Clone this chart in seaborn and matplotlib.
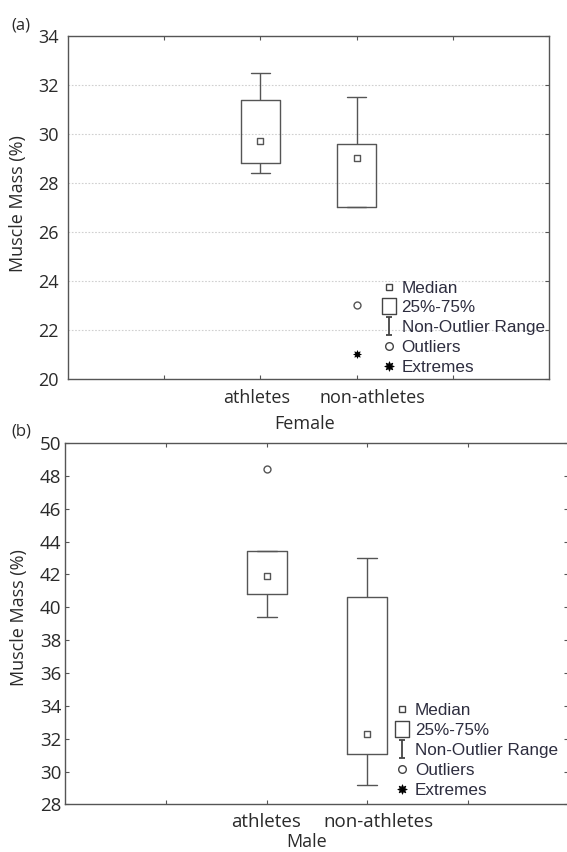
import numpy as np
import pandas as pd
import matplotlib
matplotlib.use("Agg")
import matplotlib.pyplot as plt
from matplotlib.lines import Line2D
from matplotlib.path import Path
import seaborn as sns

# ---------------- data ----------------
categories = ["athletes", "non-athletes"]

female_whisker_low = [28.4, 27.0]
female_q1 = [28.8, 27.0]
female_median = [29.7, 29.0]
female_q3 = [31.4, 29.6]
female_whisker_high = [32.5, 31.5]
female_outlier_groups = ["non-athletes"]
female_outliers = [23.0]
female_extreme_groups = ["non-athletes"]
female_extremes = [21.0]

male_whisker_low = [39.4, 29.2]
male_q1 = [40.8, 31.1]
male_median = [41.9, 32.3]
male_q3 = [43.4, 40.6]
male_whisker_high = [43.4, 43.0]
male_outlier_groups = ["athletes"]
male_outliers = [48.4]

female_yticks = [20, 22, 24, 26, 28, 30, 32, 34]
male_yticks = [28, 30, 32, 34, 36, 38, 40, 42, 44, 46, 48, 50]

legend_labels = ["Median", "25%-75%", "Non-Outlier Range", "Outliers", "Extremes"]

# ---------------- style ----------------
sns.set_style("ticks")
plt.rcParams["font.family"] = ["Open Sans", "DejaVu Sans"]

LINE = "#555555"
TXT = "#2a2a2a"


def stats_frame(wl, q1, med, q3, wh):
    rows = []
    for i, c in enumerate(categories):
        for v in (wl[i], q1[i], med[i], q3[i], wh[i]):
            rows.append({"group": c, "value": v})
    return pd.DataFrame(rows)


def draw_panel(ax, df, medians, outl_groups, outl, ext_groups, ext, label_offsets):
    sns.boxplot(data=df, x="group", y="value", order=categories, ax=ax,
                whis=(0, 100), width=0.4, fill=False, color=LINE,
                linewidth=1.0, showfliers=False,
                medianprops={"visible": False})
    sns.stripplot(x=categories, y=medians, order=categories, ax=ax,
                  jitter=False, marker="s", size=4.5, color="white",
                  edgecolor=LINE, linewidth=1.0, zorder=4)
    if outl:
        sns.stripplot(x=outl_groups, y=outl, order=categories, ax=ax,
                      jitter=False, marker="o", size=5, color="white",
                      edgecolor=LINE, linewidth=1.0, zorder=4)
    if ext:
        sns.stripplot(x=ext_groups, y=ext, order=categories, ax=ax,
                      jitter=False, marker=(8, 1, 0), size=5.5, color="black",
                      edgecolor="black", linewidth=0.5, zorder=4)
    ax.set_xlim(-2, 3)
    # tick marks at the category grid, labels (minor ticks) slightly offset
    ax.set_xticks([-1, 0, 1, 2])
    ax.set_xticklabels([])
    ax.set_xticks([i + d for i, d in enumerate(label_offsets)], minor=True)
    ax.set_xticklabels(categories, minor=True)
    ax.tick_params(axis="x", which="minor", length=0, bottom=True, top=False)
    for s in ax.spines.values():
        s.set_color(LINE)
        s.set_linewidth(1.0)
        s.set_visible(True)


ibeam = Path([(-0.32, 1), (0.32, 1), (0, 1), (0, -1), (-0.32, -1), (0.32, -1)],
             [Path.MOVETO, Path.LINETO, Path.MOVETO, Path.LINETO, Path.MOVETO, Path.LINETO])
rect = Path([(-0.8, -1), (0.8, -1), (0.8, 1), (-0.8, 1), (-0.8, -1)],
            [Path.MOVETO, Path.LINETO, Path.LINETO, Path.LINETO, Path.CLOSEPOLY])


def add_legend(ax, anchor):
    handles = [
        Line2D([], [], linestyle="none", marker="s", markersize=5,
               markerfacecolor="white", markeredgecolor="#444444", markeredgewidth=1.0),
        Line2D([], [], linestyle="none", marker=rect, markersize=12,
               markerfacecolor="white", markeredgecolor="#444444", markeredgewidth=1.0),
        Line2D([], [], linestyle="none", marker=ibeam, markersize=13,
               markerfacecolor="none", markeredgecolor="#444444", markeredgewidth=1.3),
        Line2D([], [], linestyle="none", marker="o", markersize=5.5,
               markerfacecolor="white", markeredgecolor="#444444", markeredgewidth=1.0),
        Line2D([], [], linestyle="none", marker=(8, 1, 0), markersize=7,
               markerfacecolor="black", markeredgecolor="black", markeredgewidth=0.5),
    ]
    leg = ax.legend(handles=handles, labels=legend_labels, loc="upper left",
                    bbox_to_anchor=anchor, frameon=False, borderpad=0,
                    borderaxespad=0, labelspacing=0.29, handlelength=0.9,
                    handletextpad=0.3,
                    prop={"family": ["Liberation Sans", "DejaVu Sans"], "size": 12.3})
    for t in leg.get_texts():
        t.set_color("#2d2d3f")


fig = plt.figure(figsize=(5.67, 8.52), dpi=100)

# ---------------- panel (a) Female ----------------
ax1 = fig.add_axes([0.1199, 0.5552, 0.8483, 0.4026])
ax1.set_axisbelow(True)
draw_panel(ax1, stats_frame(female_whisker_low, female_q1, female_median,
                            female_q3, female_whisker_high),
           female_median, female_outlier_groups, female_outliers,
           female_extreme_groups, female_extremes, (-0.035, 0.16))
ax1.set_ylim(20, 34)
ax1.set_yticks(female_yticks)
ax1.yaxis.grid(True, color="#d0d0d0", linestyle=(0, (1.5, 1.5)), linewidth=0.8)
ax1.xaxis.grid(False)
ax1.tick_params(axis="both", which="major", direction="in", length=3, width=0.8,
                color=LINE, top=True, right=True)
ax1.tick_params(axis="both", which="both", labelsize=13, labelcolor=TXT)
ax1.tick_params(axis="y", pad=6.5, left=False)
ax1.tick_params(axis="x", which="both", pad=7)
ax1.set_ylabel("Muscle Mass (%)", fontsize=13, color=TXT)
ax1.yaxis.set_label_coords(-0.085, 0.51)
ax1.set_xlabel("Female", fontsize=13, color=TXT)
ax1.xaxis.set_label_coords(0.493, -0.104)
add_legend(ax1, (0.651, 0.287))

# ---------------- panel (b) Male ----------------
ax2 = fig.add_axes([0.1155, 0.0558, 0.8871, 0.4243])
draw_panel(ax2, stats_frame(male_whisker_low, male_q1, male_median,
                            male_q3, male_whisker_high),
           male_median, male_outlier_groups, male_outliers, [], [], (-0.01, 0.11))
ax2.set_ylim(28, 50)
ax2.set_yticks(male_yticks)
ax2.grid(False)
ax2.tick_params(axis="both", which="major", direction="in", length=3, width=0.8,
                color=LINE, top=True, right=True)
ax2.tick_params(axis="both", which="both", labelsize=13.5, labelcolor=TXT)
ax2.tick_params(axis="y", pad=3)
ax2.tick_params(axis="x", which="both", pad=6)
ax2.set_ylabel("Muscle Mass (%)", fontsize=13, color=TXT)
ax2.yaxis.set_label_coords(-0.074, 0.516)
ax2.set_xlabel("Male", fontsize=13, color=TXT)
ax2.xaxis.set_label_coords(0.48, -0.08)
add_legend(ax2, (0.654, 0.28))

fig.text(21 / 567, 1 - 25 / 852, "(a)", ha="center", va="center", fontsize=12, color=TXT)
fig.text(21 / 567, 1 - 431 / 852, "(b)", ha="center", va="center", fontsize=12, color=TXT)

fig.savefig("out.png", dpi=100)
